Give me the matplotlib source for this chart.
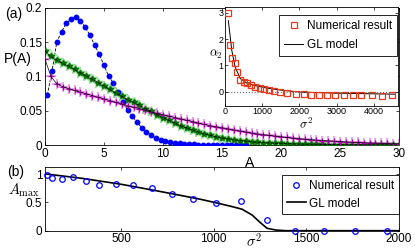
import matplotlib
matplotlib.use("Agg")
import matplotlib.pyplot as plt
from matplotlib.lines import Line2D

plt.rcParams['font.family'] = ['Liberation Sans', 'DejaVu Sans']
plt.rcParams['mathtext.fontset'] = 'cm'

# ---- panel (a): P(A) distributions ----
a_blue = [0.2, 0.6, 1.0, 1.4, 1.8, 2.2, 2.6, 3.0, 3.4, 3.8, 4.2, 4.6, 5.0, 5.4,
          5.8, 6.2, 6.6, 7.0, 7.4, 7.8, 8.2, 8.6, 9.0, 9.4, 9.8, 10.2, 10.6,
          11.0, 11.4, 11.8, 12.2, 12.6, 13.0, 13.4, 13.8, 14.2, 14.6, 15.0,
          15.4, 15.8, 16.2, 16.6, 17.0]
p_blue = [0.073, 0.108, 0.150, 0.165, 0.177, 0.184, 0.187, 0.181, 0.172, 0.160,
          0.146, 0.132, 0.116, 0.100, 0.090, 0.077, 0.063, 0.051, 0.042, 0.033,
          0.025, 0.019, 0.014, 0.010, 0.0075, 0.0055, 0.004, 0.003, 0.0022,
          0.0016, 0.0012, 0.0009, 0.0007, 0.0005, 0.0004, 0.0003, 0.0002,
          0.0002, 0.0001, 0.0001, 0.0001, 0.0001, 0.0]

a_grid = [0, 0.5, 1, 1.5, 2, 2.5, 3, 3.5, 4, 4.5, 5, 5.5, 6, 6.5, 7, 7.5, 8,
          8.5, 9, 9.5, 10, 10.5, 11, 11.5, 12, 12.5, 13, 13.5, 14, 14.5, 15,
          15.5, 16, 16.5, 17, 17.5, 18, 18.5, 19, 19.5, 20, 20.5, 21, 21.5, 22,
          22.5, 23, 23.5, 24, 24.5, 25, 25.5, 26, 26.5, 27, 27.5, 28, 28.5, 29,
          29.5, 30]
p_green = [0.137, 0.129, 0.124, 0.119, 0.115, 0.110, 0.105, 0.101, 0.096, 0.091,
           0.086, 0.081, 0.076, 0.071, 0.066, 0.062, 0.058, 0.053, 0.049, 0.044,
           0.040, 0.036, 0.032, 0.028, 0.025, 0.022, 0.019, 0.016, 0.014, 0.012,
           0.010, 0.0088, 0.0075, 0.0065, 0.0055, 0.0047, 0.004, 0.0035, 0.003,
           0.0026, 0.0022, 0.0019, 0.0016, 0.0014, 0.0012, 0.0011, 0.0009,
           0.0008, 0.0007, 0.0006, 0.0005, 0.0005, 0.0004, 0.0004, 0.0003,
           0.0003, 0.0002, 0.0002, 0.0002, 0.0001, 0.0001]
p_mag = [0.125, 0.100, 0.089, 0.085, 0.082, 0.0795, 0.077, 0.0745, 0.072, 0.0695,
         0.067, 0.0645, 0.062, 0.0595, 0.057, 0.055, 0.053, 0.0505, 0.048, 0.046,
         0.044, 0.042, 0.040, 0.038, 0.036, 0.034, 0.032, 0.030, 0.028, 0.0265,
         0.025, 0.0235, 0.022, 0.0205, 0.019, 0.0175, 0.016, 0.015, 0.014, 0.013,
         0.012, 0.011, 0.010, 0.0092, 0.0085, 0.0078, 0.007, 0.0065, 0.006,
         0.0055, 0.005, 0.0045, 0.004, 0.0037, 0.0033, 0.003, 0.0027, 0.0025,
         0.0022, 0.002, 0.0018]

# ---- inset: alpha_2 vs sigma^2 ----
s2_num = [91, 136, 199, 272, 335, 408, 498, 589, 697, 815, 933, 1060, 1178,
          1313, 1467, 1658, 1902, 2110, 2310, 2518, 2745, 2944, 3188, 3442,
          3668, 3940, 4212, 4502]
alpha_num = [2.98, 1.76, 1.26, 1.10, 0.76, 0.44, 0.38, 0.32, 0.26, 0.165, 0.13,
             0.09, 0.065, 0.04, 0.0, -0.04, -0.09, -0.10, -0.13, -0.13, -0.13,
             -0.15, -0.13, -0.14, -0.14, -0.15, -0.16, -0.15]
s2_gl = [90, 182, 272, 408, 589, 861, 1133, 1585, 2040, 2944, 4574]
alpha_gl = [2.7, 1.57, 0.94, 0.50, 0.32, 0.21, 0.13, 0.04, -0.02, -0.06, -0.10]

# ---- panel (b): A_max vs sigma^2 ----
s2_b = [100, 126, 180, 240, 310, 384, 472, 564, 665, 775, 888, 1015, 1148,
        1288, 1438, 1595, 1760, 1934]
amax_b = [0.988, 0.929, 0.917, 0.94, 0.869, 0.81, 0.823, 0.81, 0.752, 0.645,
          0.557, 0.496, 0.532, 0.19, 0.0, 0.0, 0.0, 0.0]
s2_glb = [100, 300, 500, 700, 919, 1009, 1099, 1153, 1207, 1252, 1288, 1334,
          1388, 2000]
amax_glb = [1.0, 0.92, 0.82, 0.70, 0.562, 0.496, 0.426, 0.38, 0.278, 0.142,
            0.043, 0.012, 0.0, 0.0]

W, H = 415, 250
fig = plt.figure(figsize=(W / 100, H / 100), dpi=100)


def box(x0, y0, x1, y1):
    return [x0 / W, 1 - y1 / H, (x1 - x0) / W, (y1 - y0) / H]


def style(ax, fs, pad=2):
    ax.tick_params(direction='in', length=2.5, width=0.5, top=True,
                   right=True, labelsize=fs, pad=pad)
    for s in ax.spines.values():
        s.set_linewidth(0.6)


ax = fig.add_axes(box(45, 7.7, 399, 145))
ax.plot(a_blue, p_blue, '--', color='k', lw=0.6, zorder=2)
ax.plot(a_blue, p_blue, 'o', color='#0000ff', ms=3.2, mec='#0000ff', zorder=3)
ax.plot(a_grid, p_green, '*', color='#8fd88f', ms=7, zorder=2)
ax.plot(a_grid, p_green, '*', color='#007000', ms=4, zorder=3)
ax.plot(a_grid, p_green, '--', color='k', lw=0.6, zorder=4)
ax.plot(a_grid, p_mag, '+', color='#ec9cec', ms=7, mew=1.3, zorder=2)
ax.plot(a_grid, p_mag, '+', color='#b000b0', ms=5, mew=0.9, zorder=3)
ax.plot(a_grid, p_mag, '-', color='k', lw=0.5, zorder=4)
ax.set_xlim(0, 30)
ax.set_ylim(0, 0.2)
ax.set_xticks([0, 5, 10, 15, 20, 25, 30])
ax.set_yticks([0, 0.05, 0.1, 0.15, 0.2])
ax.set_yticklabels(['0', '0.05', '0.1', '0.15', '0.2'])
style(ax, 8.5)

fig.text(14 / W, 1 - 14 / H, '(a)', fontsize=10, ha='center', va='center')
fig.text(17.5 / W, 1 - 59 / H, 'P(A)', fontsize=10, ha='center', va='center')
fig.text(250 / W, 1 - 163 / H, 'A', fontsize=10, ha='center', va='center')

# inset
ins = fig.add_axes(box(225, 7.5, 398, 106))
ins.axhline(0, color='#555555', lw=0.7, ls=(0, (1, 2)), zorder=1)
ins.plot(s2_gl, alpha_gl, '-', color='k', lw=0.7, zorder=2)
ins.plot(s2_num, alpha_num, 's', mfc='none', mec='#e83818', ms=4, mew=0.9,
         zorder=3)
ins.set_xlim(0, 4650)
ins.set_ylim(-0.55, 3.2)
ins.set_xticks([0, 1000, 2000, 3000, 4000])
ins.set_yticks([0, 1, 2, 3])
style(ins, 6.5, pad=1)
fig.text(216 / W, 1 - 54 / H, r'$\alpha_2$', fontsize=9, ha='center', va='center')
fig.text(306 / W, 1 - 124 / H, r'$\sigma^2$', fontsize=9, ha='center', va='center')
h1 = Line2D([], [], ls='none', marker='s', mfc='none', mec='#e83818', ms=4, mew=0.9)
h2 = Line2D([], [], color='k', lw=0.7)
ins.legend([h1, h2], ['Numerical result', 'GL model'], loc='upper right',
           bbox_to_anchor=(397 / W, 1 - 15 / H), bbox_transform=fig.transFigure,
           fontsize=8.5, frameon=True, fancybox=False, edgecolor='k',
           framealpha=1, borderpad=0.45, handlelength=1.6, handletextpad=0.3,
           labelspacing=0.55, borderaxespad=0).get_frame().set_linewidth(0.6)

# panel (b)
bx = fig.add_axes(box(45, 166.7, 399, 230.7))
bx.plot(s2_glb, amax_glb, '-', color='k', lw=1.2, zorder=2)
bx.plot(s2_b, amax_b, 'o', mfc='none', mec='#0000ff', ms=4, mew=0.9,
        zorder=3, clip_on=False)
bx.set_xlim(90, 2000)
bx.set_ylim(0, 1.13)
bx.set_xticks([500, 1000, 1500, 2000])
bx.set_yticks([0, 0.5, 1])
bx.set_yticklabels(['0', '0.5', '1'])
style(bx, 8.5)
fig.text(15.5 / W, 1 - 172 / H, '(b)', fontsize=10, ha='center', va='center')
fig.text(24 / W, 1 - 190 / H, r'$A_{\max}$', fontsize=10.5, ha='center', va='center')
fig.text(254 / W, 1 - 241 / H, r'$\sigma^2$', fontsize=10.5, ha='center', va='center')
g1 = Line2D([], [], ls='none', marker='o', mfc='none', mec='#0000ff', ms=4, mew=0.9)
g2 = Line2D([], [], color='k', lw=1.2)
bx.legend([g1, g2], ['Numerical result', 'GL model'], loc='upper right',
          bbox_to_anchor=(399 / W, 1 - 175 / H), bbox_transform=fig.transFigure,
          fontsize=8.5, frameon=True, fancybox=False, edgecolor='k',
          framealpha=1, borderpad=0.4, handlelength=1.6, handletextpad=0.3,
          labelspacing=0.5, borderaxespad=0).get_frame().set_linewidth(0.6)

fig.savefig('out.png', dpi=100)
